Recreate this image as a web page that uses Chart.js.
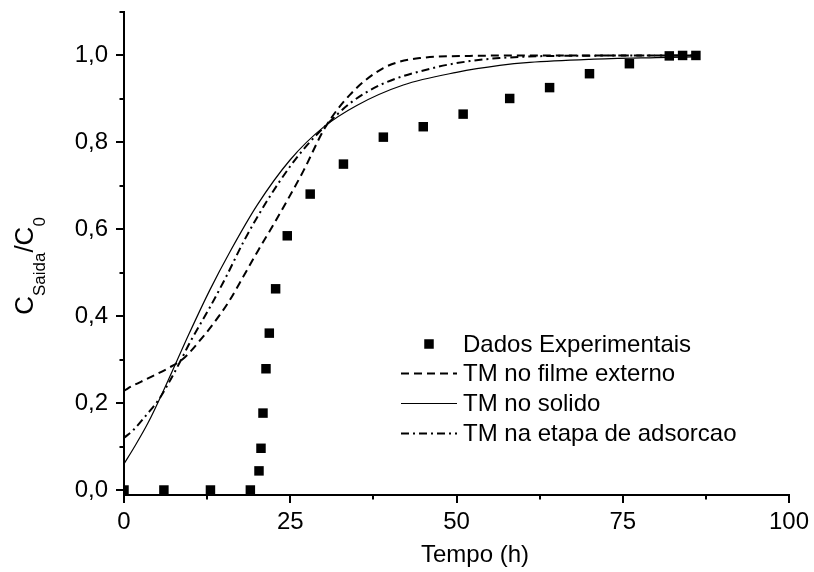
<!DOCTYPE html>
<html>
<head>
<meta charset="utf-8">
<script src="https://cdn.jsdelivr.net/npm/chart.js@4.4.0/dist/chart.umd.min.js"></script>
<style>
html,body{margin:0;padding:0;background:#fff;}
#wrap{width:814px;height:572px;position:relative;}
</style>
</head>
<body>
<div id="wrap"><canvas id="c" width="814" height="572"></canvas></div>
<script>
// ---- data ----
const expTime = [0, 6, 13, 19, 20.3, 20.6, 20.9, 21.35, 21.85, 22.8, 24.55, 28, 33, 39, 45, 51, 58, 64, 70, 76, 82, 84, 86];
const expConc = [0, 0, 0, 0, 0.044, 0.096, 0.177, 0.279, 0.361, 0.463, 0.585, 0.681, 0.75, 0.812, 0.836, 0.865, 0.901, 0.926, 0.958, 0.981, 0.999, 1.0, 1.0];

const filmeTime = [0, 0.6, 3.6, 6.6, 8.9, 11.9, 13.4, 15.7, 17.9, 20.2, 22.45, 24.5, 27, 30.2, 34, 39, 44.5, 52, 60, 86.5];
const filmeConc = [0.228, 0.234, 0.257, 0.28, 0.302, 0.353, 0.382, 0.432, 0.49, 0.552, 0.61, 0.665, 0.735, 0.833, 0.91, 0.971, 0.994, 0.999, 1.0, 1.0];

const solidoTime = [0, 1.6, 3.6, 6.1, 9.8, 12.9, 16, 20, 25, 30, 35, 42, 50, 56.5, 61, 70, 80, 86.5];
const solidoConc = [0.06, 0.1, 0.154, 0.234, 0.36, 0.46, 0.55, 0.655, 0.76, 0.835, 0.885, 0.932, 0.961, 0.977, 0.984, 0.991, 0.995, 0.997];

const adsTime = [0, 1.4, 3.6, 5.1, 6.6, 8.6, 10, 12.9, 15.5, 18, 21.5, 25, 27.5, 30.1, 34, 38.5, 47, 52, 56.5, 65, 86.5];
const adsConc = [0.12, 0.138, 0.177, 0.205, 0.243, 0.30, 0.342, 0.42, 0.495, 0.572, 0.665, 0.745, 0.793, 0.835, 0.89, 0.932, 0.973, 0.987, 0.994, 0.999, 1.0];

const xMajorTicks = [0, 25, 50, 75, 100];
const xMinorTicks = [12.5, 37.5, 62.5, 87.5];
const yMajorTicks = [0, 0.2, 0.4, 0.6, 0.8, 1.0];
const yMinorTicks = [0.1, 0.3, 0.5, 0.7, 0.9, 1.1];

const xTitle = 'Tempo (h)';
const yTitleParts = [['C', false], ['Saida', true], ['/C', false], ['0', true]];
const legendLabels = ['Dados Experimentais', 'TM no filme externo', 'TM no solido', 'TM na etapa de adsorcao'];

// ---- helpers ----
const FONT = '"Liberation Sans", Arial, Helvetica, sans-serif';
const toXY = (xs, ys) => xs.map((x, i) => ({x: x, y: ys[i]}));
const DASH = [8, 5];
const DASHDOT = [8, 4, 2, 4];

const axisDecor = {
  id: 'axisDecor',
  afterDraw(chart) {
    const ctx = chart.ctx;
    const xs = chart.scales.x, ys = chart.scales.y;
    const a = chart.chartArea;
    ctx.save();
    ctx.strokeStyle = '#000';
    ctx.lineWidth = 2;
    ctx.lineCap = 'butt';
    const drawX = (v, len) => {
      const px = Math.round(xs.getPixelForValue(v));
      ctx.beginPath(); ctx.moveTo(px, a.bottom); ctx.lineTo(px, a.bottom + len); ctx.stroke();
    };
    const drawY = (v, len) => {
      const py = Math.round(ys.getPixelForValue(v));
      ctx.beginPath(); ctx.moveTo(a.left, py); ctx.lineTo(a.left - len, py); ctx.stroke();
    };
    xMajorTicks.forEach(v => drawX(v, 8));
    xMinorTicks.forEach(v => drawX(v, 4.5));
    yMajorTicks.forEach(v => drawY(v, 8));
    yMinorTicks.forEach(v => drawY(v, 4.5));

    ctx.fillStyle = '#000';
    ctx.font = '24px ' + FONT;
    ctx.textAlign = 'center';
    ctx.textBaseline = 'alphabetic';
    ctx.fillText(xTitle, 475, 562);

    const bigF = '26px ' + FONT, subF = '17px ' + FONT;
    let total = 0;
    yTitleParts.forEach(([t, sub]) => { ctx.font = sub ? subF : bigF; total += ctx.measureText(t).width; });
    ctx.translate(33, 266);
    ctx.rotate(-Math.PI / 2);
    ctx.textAlign = 'left';
    let cx = -total / 2;
    yTitleParts.forEach(([t, sub]) => {
      ctx.font = sub ? subF : bigF;
      ctx.fillText(t, cx, sub ? 11.5 : 0);
      cx += ctx.measureText(t).width;
    });
    ctx.restore();

    ctx.save();
    ctx.fillStyle = '#000';
    ctx.strokeStyle = '#000';
    const rows = [344, 373.5, 403.5, 433.5];
    const textX = 463, l0 = 401, l1 = 457;
    ctx.font = '24px ' + FONT;
    ctx.textAlign = 'left';
    ctx.textBaseline = 'middle';
    chart.data.datasets.forEach((ds, i) => {
      const y = rows[i];
      if (i === 0) {
        ctx.fillRect(429 - 4.75, y - 4.75, 9.5, 9.5);
      } else {
        ctx.beginPath();
        ctx.lineWidth = ds.borderWidth;
        ctx.setLineDash(ds.borderDash || []);
        ctx.moveTo(l0, y); ctx.lineTo(l1, y); ctx.stroke();
        ctx.setLineDash([]);
      }
      ctx.fillText(ds.label, textX, y + 1);
    });
    ctx.restore();
  }
};

new Chart(document.getElementById('c'), {
  type: 'scatter',
  data: {
    datasets: [
      { label: legendLabels[0], data: toXY(expTime, expConc), showLine: false,
        pointStyle: 'rect', pointRadius: 6.7, pointHoverRadius: 6.7,
        backgroundColor: '#000', borderColor: '#000', borderWidth: 0, order: 0 },
      { label: legendLabels[1], data: toXY(filmeTime, filmeConc), showLine: true,
        borderColor: '#000', borderWidth: 2, borderDash: DASH, pointRadius: 0,
        cubicInterpolationMode: 'monotone', fill: false, order: 1 },
      { label: legendLabels[2], data: toXY(solidoTime, solidoConc), showLine: true,
        borderColor: '#000', borderWidth: 1.2, pointRadius: 0,
        cubicInterpolationMode: 'monotone', fill: false, order: 2 },
      { label: legendLabels[3], data: toXY(adsTime, adsConc), showLine: true,
        borderColor: '#000', borderWidth: 2, borderDash: DASHDOT, pointRadius: 0,
        cubicInterpolationMode: 'monotone', fill: false, order: 3 }
    ]
  },
  options: {
    responsive: false,
    animation: false,
    devicePixelRatio: 1,
    layout: { padding: { left: 0, right: 25, top: 12, bottom: 0 } },
    plugins: { legend: { display: false }, tooltip: { enabled: false }, title: { display: false } },
    scales: {
      x: {
        type: 'linear', min: 0, max: 100,
        afterBuildTicks: s => { s.ticks = xMajorTicks.map(v => ({value: v})); },
        afterFit: s => { s.height = 77; s.paddingLeft = 0; s.paddingRight = 0; },
        grid: { display: false, drawTicks: false },
        border: { display: true, color: '#000', width: 2 },
        ticks: { color: '#000', font: { family: FONT, size: 24 }, padding: 13, maxRotation: 0, autoSkip: false,
                 callback: v => String(v) },
        title: { display: false }
      },
      y: {
        type: 'linear', min: -0.0115, max: 1.1,
        afterBuildTicks: s => { s.ticks = yMajorTicks.map(v => ({value: v})); },
        afterFit: s => { s.width = 124; s.paddingTop = 0; s.paddingBottom = 0; },
        grid: { display: false, drawTicks: false },
        border: { display: true, color: '#000', width: 2 },
        ticks: { color: '#000', font: { family: FONT, size: 24 }, padding: 16,
                 callback: v => Number(v).toFixed(1).replace('.', ',') },
        title: { display: false }
      }
    }
  },
  plugins: [axisDecor]
});
</script>
</body>
</html>
